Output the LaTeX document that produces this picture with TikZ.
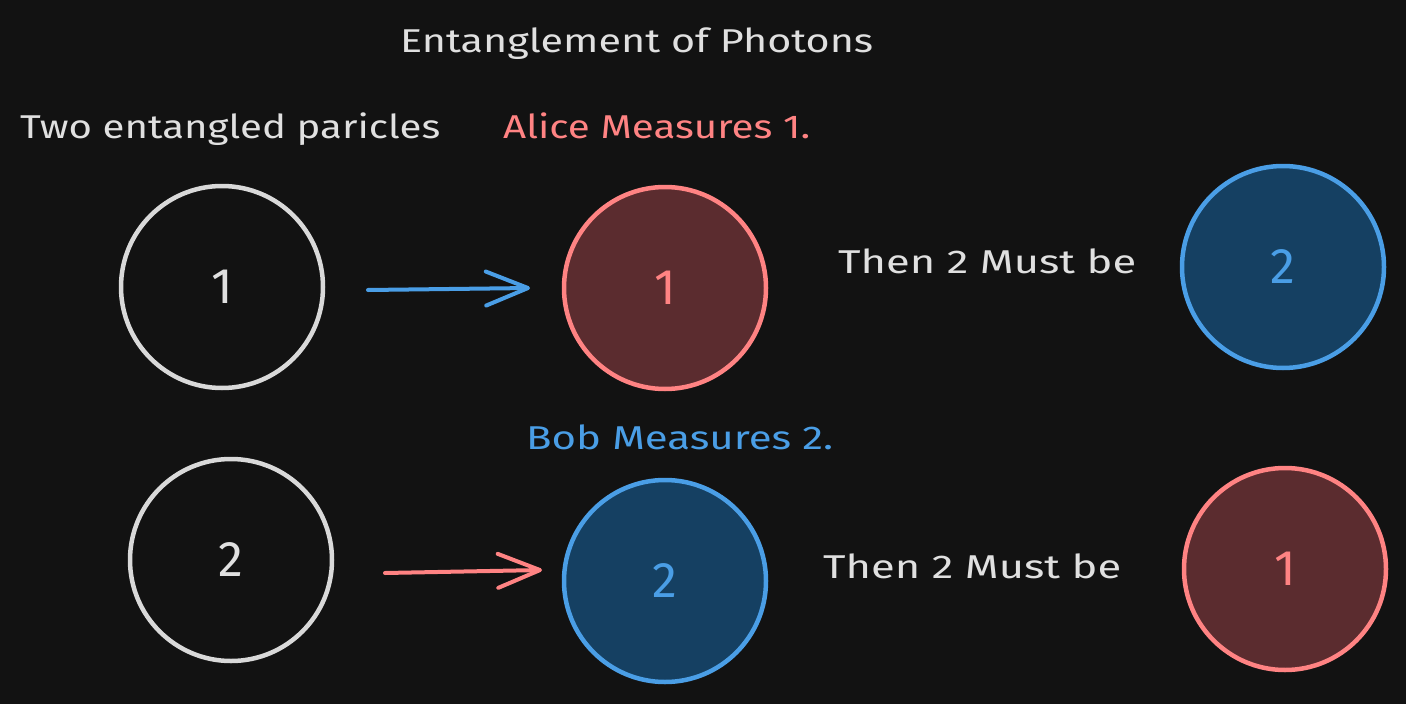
\documentclass[tikz,border=0pt]{standalone}
\usepackage{fontspec}
\setmainfont{Fira Sans}
\usetikzlibrary{arrows.meta}
\definecolor{bg}{HTML}{121212}
\definecolor{ink}{HTML}{E0E0E0}
\definecolor{ring}{HTML}{D9D9D9}
\definecolor{redline}{HTML}{FF8383}
\definecolor{redfill}{HTML}{5B2C2F}
\definecolor{blueline}{HTML}{4A9EE6}
\definecolor{bluefill}{HTML}{154062}
\tikzset{
  particle/.style={circle, line width=4.5pt, minimum size=202pt, inner sep=0pt, font=\fontsize{50}{60}\selectfont},
  plain/.style={particle, draw=ring, text=ink},
  redp/.style={particle, draw=redline, fill=redfill, text=redline},
  bluep/.style={particle, draw=blueline, fill=bluefill, text=blueline},
  label/.style={anchor=west, inner sep=0pt, font=\fontsize{33}{40}\selectfont},
  conn/.style={line width=4pt, line cap=round, line join=round, -{Straight Barb[length=42pt,width=34pt,line cap=round,line join=round]}}
}
\newcommand{\fitw}[2]{\resizebox{#1}{\height}{#2}}
\begin{document}
\begin{tikzpicture}[x=1pt,y=-1pt]
\fill[bg] (0,0) rectangle (1406,704);
\useasboundingbox (0,0) rectangle (1406,704);

\node[label, text=ink] (title) at (400,44) {\fitw{473pt}{Entanglement of Photons}};
\node[label, text=ink] (two) at (20,129) {\fitw{420pt}{Two entangled paricles}};
\node[label, text=redline] (alice) at (503,126) {\fitw{307pt}{Alice Measures 1.}};
\node[label, text=blueline] (bob) at (526,437) {\fitw{307pt}{Bob Measures 2.}};
\node[label, text=ink] (then1) at (838,261) {\fitw{298pt}{Then 2 Must be}};
\node[label, text=ink] (then2) at (823,566) {\fitw{298pt}{Then 2 Must be}};

\node[plain] (p1) at (222,287) {1};
\node[redp] (a1) at (665,288) {1};
\node[bluep] (r2) at (1283,267) {2};
\node[plain] (p2) at (231,560) {2};
\node[bluep] (b2) at (665,581) {2};
\node[redp] (r1) at (1285,569) {1};

\coordinate (s1) at (368,290);
\coordinate (e1) at (530,288);
\coordinate (s2) at (385,573);
\coordinate (e2) at (542,570);
\draw[conn, blueline] (s1) -- (e1);
\draw[conn, redline] (s2) -- (e2);
\end{tikzpicture}
\end{document}
